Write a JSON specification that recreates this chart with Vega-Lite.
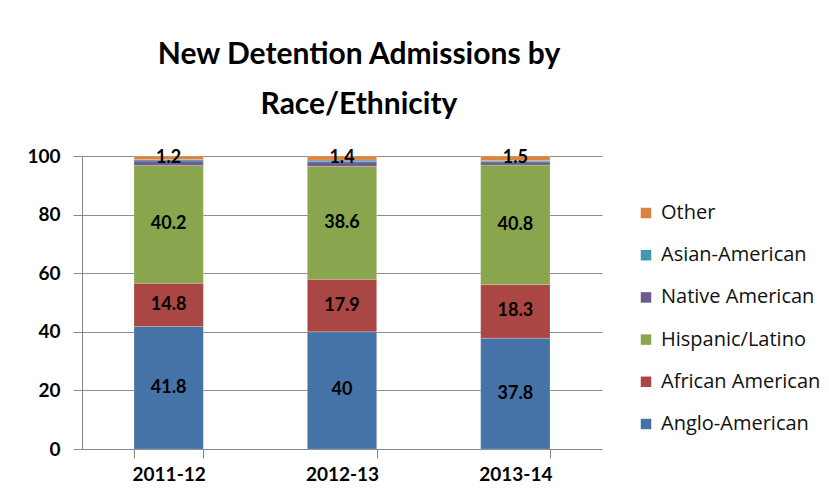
{
  "$schema": "https://vega.github.io/schema/vega-lite/v6.json",
  "width": 520,
  "height": 293,
  "autosize": {"type": "none"},
  "padding": {"left": 82, "top": 156, "right": 227, "bottom": 52},
  "background": "white",
  "title": {
    "text": ["New Detention Admissions by", "Race/Ethnicity"],
    "fontSize": 30,
    "font": "Lato",
    "fontWeight": "bold",
    "color": "#000000",
    "lineHeight": 50,
    "anchor": "middle",
    "dx": 17,
    "offset": 27
  },
  "data": {
    "values": [
      {"year": "2011-12", "series": "Anglo-American", "value": 41.8},
      {"year": "2011-12", "series": "African American", "value": 14.8},
      {"year": "2011-12", "series": "Hispanic/Latino", "value": 40.2},
      {"year": "2011-12", "series": "Native American", "value": 1.5},
      {"year": "2011-12", "series": "Asian-American", "value": 0.5},
      {"year": "2011-12", "series": "Other", "value": 1.2},
      {"year": "2012-13", "series": "Anglo-American", "value": 40},
      {"year": "2012-13", "series": "African American", "value": 17.9},
      {"year": "2012-13", "series": "Hispanic/Latino", "value": 38.6},
      {"year": "2012-13", "series": "Native American", "value": 1.5},
      {"year": "2012-13", "series": "Asian-American", "value": 0.6},
      {"year": "2012-13", "series": "Other", "value": 1.4},
      {"year": "2013-14", "series": "Anglo-American", "value": 37.8},
      {"year": "2013-14", "series": "African American", "value": 18.3},
      {"year": "2013-14", "series": "Hispanic/Latino", "value": 40.8},
      {"year": "2013-14", "series": "Native American", "value": 1.1},
      {"year": "2013-14", "series": "Asian-American", "value": 0.5},
      {"year": "2013-14", "series": "Other", "value": 1.5}
    ]
  },
  "transform": [
    {"calculate": "indexof(['Anglo-American','African American','Hispanic/Latino','Native American','Asian-American','Other'], datum.series)", "as": "ord"},
    {"stack": "value", "groupby": ["year"], "sort": [{"field": "ord", "order": "ascending"}], "as": ["v0", "v1"]},
    {"calculate": "(datum.v0 + datum.v1) / 2", "as": "mid"}
  ],
  "encoding": {
    "x": {
      "field": "year",
      "type": "nominal",
      "scale": {"paddingInner": 0.6, "paddingOuter": 0.3},
      "axis": {
        "title": null,
        "labelAngle": 0,
        "labelFont": "Lato",
        "labelFontWeight": "bold",
        "labelFontSize": 19,
        "labelColor": "#000000",
        "labelPadding": 7,
        "domainColor": "#868686",
        "domainWidth": 1,
        "tickColor": "#868686",
        "tickSize": 9,
        "tickBand": "extent"
      }
    }
  },
  "layer": [
    {
      "mark": {"type": "bar", "stroke": "#ffffff", "strokeWidth": 0.5, "strokeOpacity": 0.4},
      "encoding": {
        "y": {
          "field": "v1",
          "type": "quantitative",
          "scale": {"domain": [0, 100]},
          "axis": {
            "title": null,
            "values": [0, 20, 40, 60, 80, 100],
            "labelFont": "Lato",
            "labelFontWeight": "bold",
            "labelFontSize": 19,
            "labelColor": "#000000",
            "labelPadding": 13,
            "domainColor": "#868686",
            "tickColor": "#868686",
            "tickSize": 9,
            "gridColor": "#8c8c8c",
            "gridWidth": 1
          }
        },
        "y2": {"field": "v0"},
        "color": {
          "field": "series",
          "type": "nominal",
          "scale": {
            "domain": ["Other", "Asian-American", "Native American", "Hispanic/Latino", "African American", "Anglo-American"],
            "range": ["#DB843D", "#4198AF", "#71588F", "#89A54E", "#AA4643", "#4572A7"]
          },
          "legend": {
            "title": null,
            "orient": "none",
            "legendX": 554,
            "legendY": 47,
            "symbolType": "square",
            "symbolSize": 110,
            "symbolStrokeWidth": 0,
            "labelFont": "Open Sans",
            "labelFontSize": 20,
            "labelColor": "#111111",
            "labelOffset": 5,
            "rowPadding": 22.2,
            "labelLimit": 300
          }
        }
      }
    },
    {
      "transform": [{"filter": "datum.series == 'Anglo-American' || datum.series == 'African American' || datum.series == 'Hispanic/Latino' || datum.series == 'Other'"}],
      "mark": {"type": "text", "font": "Lato", "fontWeight": "bold", "fontSize": 18, "color": "#000000", "baseline": "middle"},
      "encoding": {
        "y": {"field": "mid", "type": "quantitative"},
        "text": {"field": "value", "type": "quantitative", "format": ".3~f"}
      }
    }
  ],
  "config": {"view": {"stroke": null}}
}
